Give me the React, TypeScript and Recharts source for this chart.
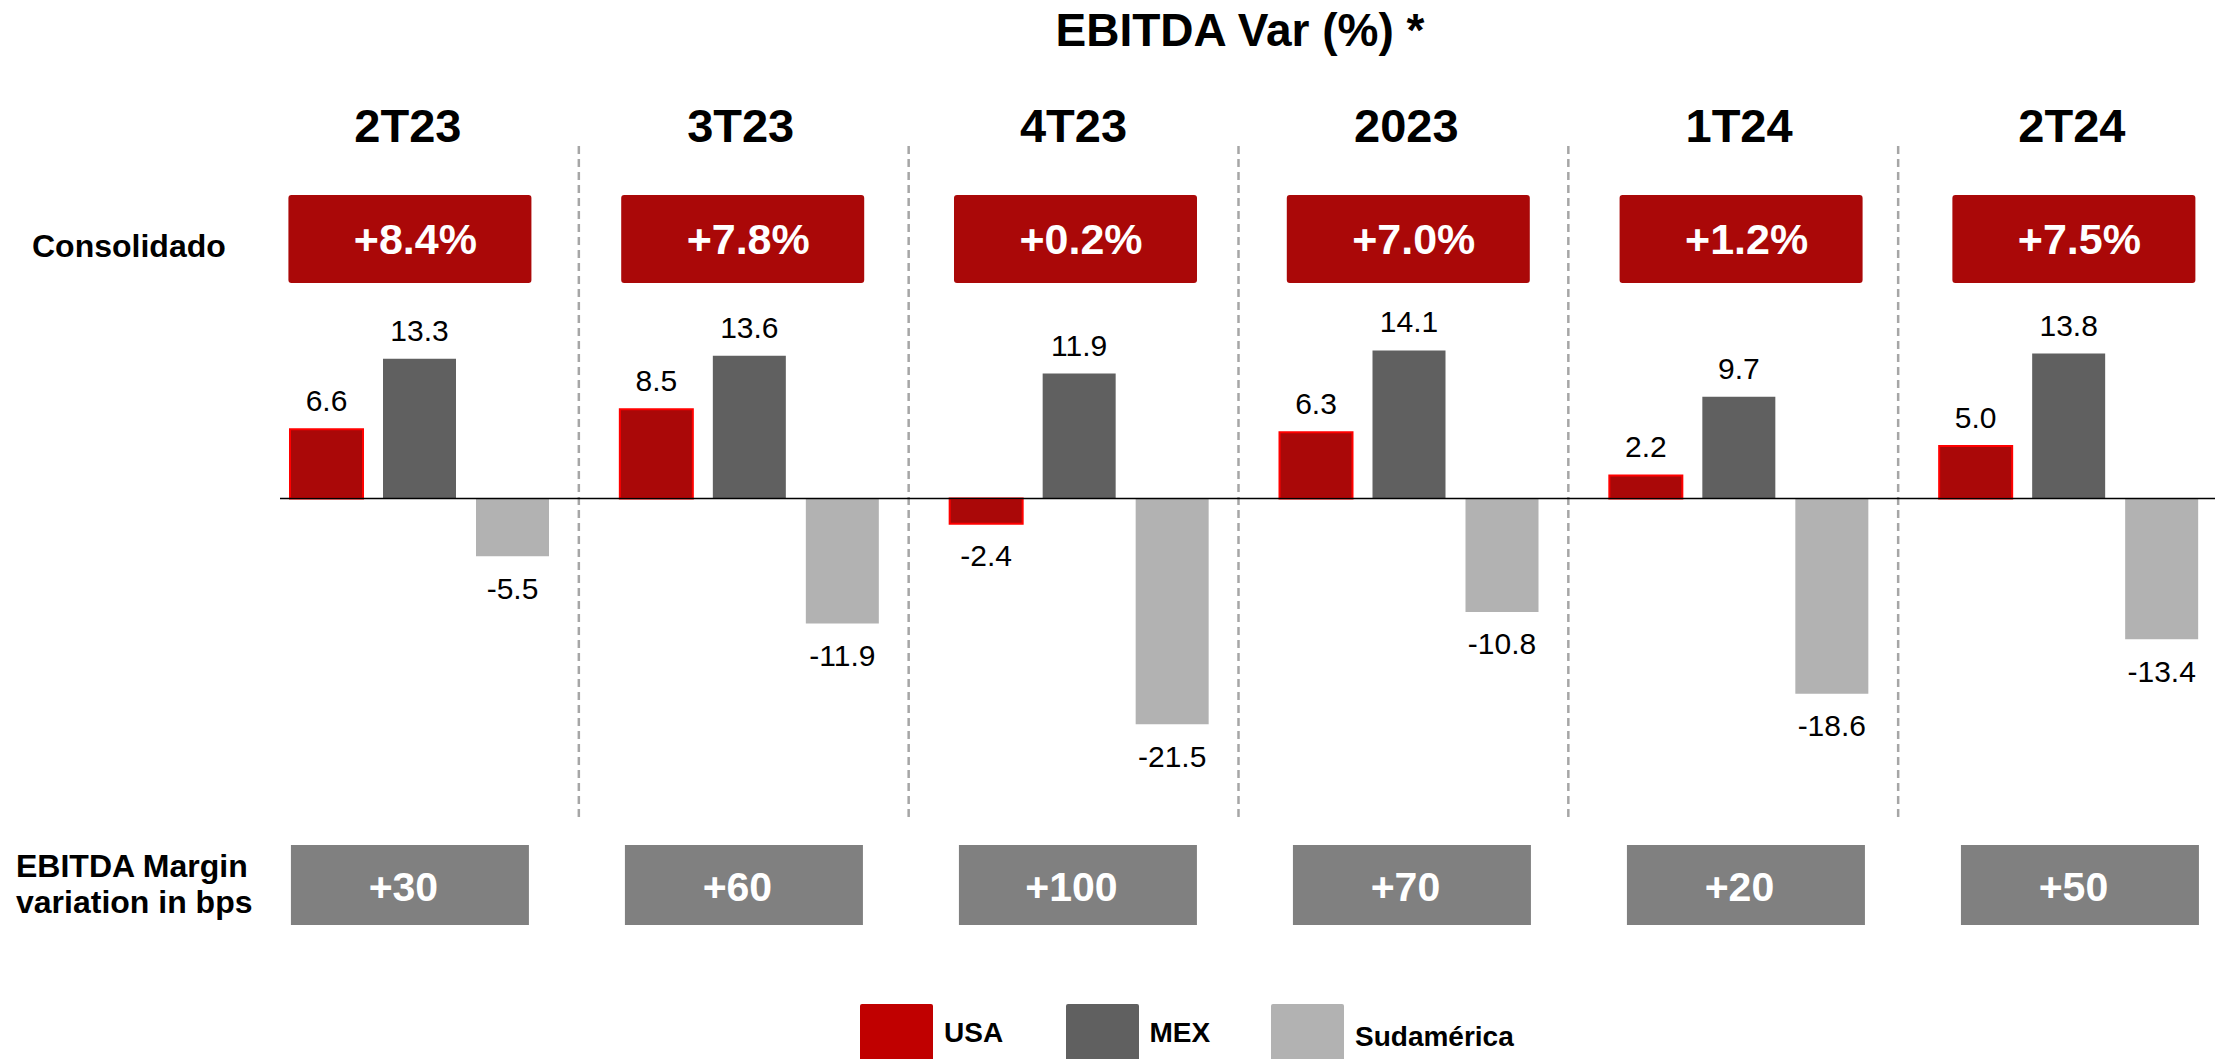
import { BarChart, Bar, XAxis, YAxis, ReferenceLine, LabelList, Legend } from "recharts"

const categories = ["2T23", "3T23", "4T23", "2023", "1T24", "2T24"]
const usa = [6.6, 8.5, -2.4, 6.3, 2.2, 5.0]
const mex = [13.3, 13.6, 11.9, 14.1, 9.7, 13.8]
const sudamerica = [-5.5, -11.9, -21.5, -10.8, -18.6, -13.4]
const consolidado = ["+8.4%", "+7.8%", "+0.2%", "+7.0%", "+1.2%", "+7.5%"]
const marginBps = ["+30", "+60", "+100", "+70", "+20", "+50"]
const legendOrder = ["USA", "MEX", "Sudamerica"]

const FONT = "'Liberation Sans', Arial, sans-serif"

const data = categories.map((c, i) => ({
  name: c,
  USA: usa[i],
  MEX: mex[i],
  Sudamerica: sudamerica[i],
}))

const LEGEND_COLORS: Record<string, string> = { USA: "#C00000", MEX: "#606060", Sudamerica: "#B2B2B2" }
const LEGEND_NAMES: Record<string, string> = { USA: "USA", MEX: "MEX", Sudamerica: "Sudamérica" }

const renderValue = (props: any) => {
  const { x, y, width, height, value } = props
  const top = Math.min(y, y + height)
  const bottom = Math.max(y, y + height)
  const cx = x + width / 2
  const ty = value >= 0 ? top - 18 : bottom + 21 + 21.5
  return (
    <text x={cx} y={ty} textAnchor="middle" fontSize={30} fill="#000">
      {Number(value).toFixed(1)}
    </text>
  )
}

const TopTick = (props: any) => {
  const { x, payload } = props
  const i = categories.indexOf(payload.value)
  const cx = x - 10 + 2.96 * i
  return (
    <g>
      <text x={cx - 2} y={142} textAnchor="middle" fontSize={47} fontWeight="bold" fill="#000">
        {payload.value}
      </text>
      <rect x={cx - 121.5} y={195} width={243} height={88} rx={3} fill="#AA0808" />
      <text x={cx + 5.5} y={254} textAnchor="middle" fontSize={43} fontWeight="bold" fill="#fff">
        {consolidado[i]}
      </text>
    </g>
  )
}

const BottomTick = (props: any) => {
  const { x, payload } = props
  const i = categories.indexOf(payload.value)
  const cx = x - 10 + 4.17 * i
  return (
    <g>
      <rect x={cx - 119} y={845} width={238} height={80} fill="#808080" />
      <text x={cx - 6.5} y={901} textAnchor="middle" fontSize={41} fontWeight="bold" fill="#fff">
        {marginBps[i]}
      </text>
    </g>
  )
}

// dashed divider drawn a few px left of the band start
const SeparatorShape = (props: any) => {
  const { x1, y1, y2 } = props
  return <line x1={x1 - 6} x2={x1 - 6} y1={y1} y2={y2} stroke="#A6A6A6" strokeWidth={2.5} strokeDasharray="8 5" />
}

const ZeroShape = (props: any) => {
  const { x1, x2, y1 } = props
  return <line x1={Math.min(x1, x2) + 25} x2={Math.max(x1, x2)} y1={y1} y2={y1} stroke="#000" strokeWidth={1.5} />
}

const renderLegend = (props: any) => {
  const keys = (props.payload || []).map((p: any) => p.dataKey ?? p.value)
  const items = legendOrder.filter((k) => keys.includes(k))
  return (
    <div style={{ position: "relative", height: 70 }}>
      {items.map((key: string, i: number) => (
        <div key={key} style={{ position: "absolute", left: 860 + i * 205.5, top: 0 }}>
          <div style={{ position: "absolute", left: 0, top: 0, width: 73, height: 70, background: LEGEND_COLORS[key], borderRadius: 2 }} />
          <div
            style={{
              position: "absolute",
              left: 84,
              top: key === "Sudamerica" ? 19 : 15,
              fontSize: 28,
              lineHeight: "28px",
              fontWeight: "bold",
              whiteSpace: "nowrap",
              color: "#000",
            }}
          >
            {LEGEND_NAMES[key]}
          </div>
        </div>
      ))}
    </div>
  )
}

export default function App() {
  return (
    <div
      style={{
        position: "absolute",
        left: 0,
        top: 0,
        width: 2215,
        height: 1059,
        overflow: "hidden",
        background: "#fff",
        fontFamily: FONT,
      }}
    >
      <BarChart
        width={2234}
        height={1059}
        data={data}
        margin={{ top: 0, right: 0, left: 255, bottom: 0 }}
        barGap={20}
      >
        <XAxis xAxisId="top" dataKey="name" orientation="top" height={146} tickLine={false} axisLine={false} interval={0} tick={TopTick} />
        <XAxis xAxisId="cat" dataKey="name" height={242} tickLine={false} axisLine={false} interval={0} tick={BottomTick} />
        <YAxis hide domain={[-30.33, 33.57]} allowDataOverflow />
        {categories.slice(1).map((c) => (
          <ReferenceLine key={c} xAxisId="cat" x={c} position="start" shape={SeparatorShape} />
        ))}
        <Bar xAxisId="cat" dataKey="USA" barSize={73} fill="#AA0808" stroke="#FF0000" strokeWidth={2} isAnimationActive={false}>
          <LabelList dataKey="USA" content={renderValue} />
        </Bar>
        <Bar xAxisId="cat" dataKey="MEX" barSize={73} fill="#606060" isAnimationActive={false}>
          <LabelList dataKey="MEX" content={renderValue} />
        </Bar>
        <Bar xAxisId="cat" dataKey="Sudamerica" barSize={73} fill="#B2B2B2" isAnimationActive={false}>
          <LabelList dataKey="Sudamerica" content={renderValue} />
        </Bar>
        <ReferenceLine xAxisId="cat" y={0} shape={ZeroShape} />
        <Legend
          layout="horizontal"
          verticalAlign="middle"
          align="center"
          wrapperStyle={{ left: 0, top: 1004, width: 2215, height: 70 }}
          content={renderLegend}
        />
        <text x={1240} y={46} textAnchor="middle" fontSize={46} fontWeight="bold" fill="#000">
          EBITDA Var (%) *
        </text>
        <text x={32} y={257} fontSize={32} fontWeight="bold" fill="#000">
          Consolidado
        </text>
        <text x={16} y={877} fontSize={32} fontWeight="bold" fill="#000">
          EBITDA Margin
        </text>
        <text x={16} y={913} fontSize={32} fontWeight="bold" fill="#000">
          variation in bps
        </text>
      </BarChart>
    </div>
  )
}
